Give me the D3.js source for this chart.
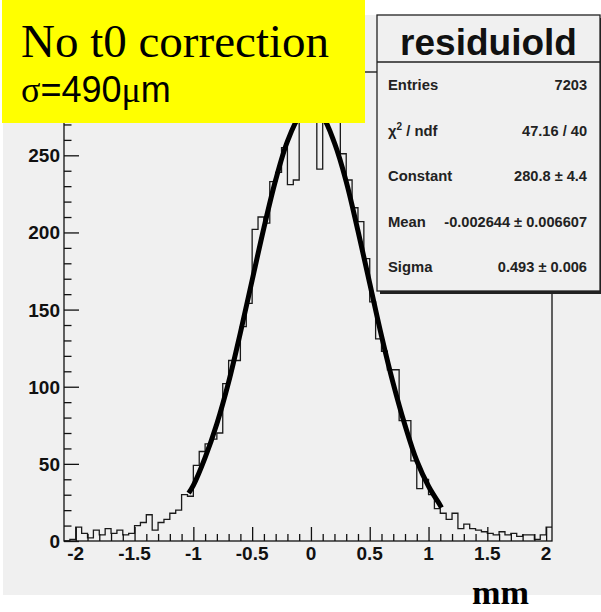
<!DOCTYPE html>
<html>
<head>
<meta charset="utf-8">
<script src="https://d3js.org/d3.v7.min.js"></script>
<style>
    body {
        margin: 0;
        background: #fff;
    }
    svg {
        display: block;
    }
    .rootfont {
        font-family: "Liberation Sans", Arial, sans-serif;
        font-weight: bold;
    }
</style>
</head>
<body>
<svg width="601" height="612"></svg>
<script>
    // histogram definition: residuiold, 83 bins from -2.1 to 2.05
    var xMin = -2.1, xMax = 2.05, binWidth = 0.05;
    var counts = [
        0, 1, 9, 5, 2, 7, 4, 8, 5, 7,
        4, 5, 10, 12, 17, 7, 12, 14, 18, 20,
        30, 29, 49, 58, 63, 66, 70, 102, 117, 117,
        139, 154, 202, 210, 206, 233, 239, 255, 231, 234,
        283, 288, 290, 241, 284, 279, 274, 251, 234, 216,
        207, 183, 155, 131, 123, 111, 111, 78, 78, 52,
        34, 40, 30, 21, 18, 14, 18, 8, 11, 8,
        7, 6, 5, 4, 6, 4, 5, 3, 4, 4,
        1, 4, 9
    ];

    // gaussian fit curve
    var fitX = [-1.04, -1.0, -0.9, -0.8, -0.7, -0.6, -0.5, -0.4, -0.3, -0.2, -0.1, 0.0,
                0.1, 0.2, 0.3, 0.4, 0.5, 0.6, 0.7, 0.8, 0.9, 1.0, 1.1, 1.11];
    var fitY = [31, 36, 54, 76, 103, 135, 169, 203, 234, 259, 275, 281,
                275, 258, 233, 201, 167, 133, 102, 75, 52, 35.5, 23, 21.6];

    var xTicks = [-2, -1.5, -1, -0.5, 0, 0.5, 1, 1.5, 2];
    var xTickLabels = ["-2", "-1.5", "-1", "-0.5", "0", "0.5", "1", "1.5", "2"];
    var yTicks = [0, 50, 100, 150, 200, 250];

    var statNames = ["Entries", "\u03c7\u00b2 / ndf", "Constant", "Mean", "Sigma"];
    var statValues = ["7203", "47.16 / 40", "280.8 \u00b1 4.4", "-0.002644 \u00b1 0.006607", "0.493 \u00b1 0.006"];

    var svg = d3.select("svg");
    var frame = { left: 64, right: 552, top: 72, bottom: 541 };

    var x = d3.scaleLinear().domain([xMin, xMax]).range([frame.left, frame.right]);
    var y = d3.scaleLinear().domain([0, 304]).range([frame.bottom, frame.top]);

    // canvas background
    svg.append("rect")
        .attr("x", 3).attr("y", 15)
        .attr("width", 598).attr("height", 580)
        .attr("fill", "#f0f0f0");

    svg.append("defs").append("clipPath").attr("id", "frameclip")
        .append("rect")
        .attr("x", frame.left).attr("y", frame.top)
        .attr("width", frame.right - frame.left).attr("height", frame.bottom - frame.top);

    var g = svg.append("g");

    // histogram outline
    var histPts = counts.map(function (c, i) { return [xMin + i * binWidth, c]; });
    histPts.push([xMin + counts.length * binWidth, counts[counts.length - 1]]);
    var step = d3.line()
        .x(function (d) { return x(d[0]); })
        .y(function (d) { return y(d[1]); })
        .curve(d3.curveStepAfter);

    g.append("path")
        .datum(histPts)
        .attr("clip-path", "url(#frameclip)")
        .attr("fill", "none")
        .attr("stroke", "#1a1a1a")
        .attr("stroke-width", 1.3)
        .attr("d", step);

    // fit
    var fitLine = d3.line()
        .x(function (d, i) { return x(fitX[i]); })
        .y(function (d) { return y(d); })
        .curve(d3.curveCatmullRom);

    g.append("path")
        .datum(fitY)
        .attr("clip-path", "url(#frameclip)")
        .attr("fill", "none")
        .attr("stroke", "#000")
        .attr("stroke-width", 5)
        .attr("stroke-linecap", "butt")
        .attr("d", fitLine);

    // frame
    g.append("rect")
        .attr("x", frame.left).attr("y", frame.top)
        .attr("width", frame.right - frame.left).attr("height", frame.bottom - frame.top)
        .attr("fill", "none")
        .attr("stroke", "#111")
        .attr("stroke-width", 1.3);

    // x axis: ticks pointing up into the frame
    var xAxis = d3.axisTop(x)
        .tickValues(d3.range(-20, 21).map(function (k) { return k / 10; }))
        .tickSize(7)
        .tickFormat("");
    var gx = g.append("g")
        .attr("transform", "translate(0," + frame.bottom + ")")
        .call(xAxis);
    gx.select(".domain").remove();
    gx.selectAll(".tick line")
        .attr("stroke", "#111").attr("stroke-width", 1.3)
        .attr("y2", function (d) { return Math.abs(d * 2 - Math.round(d * 2)) < 1e-6 ? -14 : -7; });

    g.selectAll(".xlab")
        .data(xTicks)
        .enter().append("text")
        .attr("class", "rootfont")
        .attr("x", function (d) { return x(d); })
        .attr("y", 560)
        .attr("text-anchor", "middle")
        .attr("font-size", 19)
        .attr("fill", "#111")
        .text(function (d, i) { return xTickLabels[i]; });

    // y axis: ticks pointing right into the frame
    var yAxis = d3.axisRight(y)
        .tickValues(d3.range(0, 301, 10))
        .tickFormat("");
    var gy = g.append("g")
        .attr("transform", "translate(" + frame.left + ",0)")
        .call(yAxis);
    gy.select(".domain").remove();
    gy.selectAll(".tick line")
        .attr("stroke", "#111").attr("stroke-width", 1.3)
        .attr("x2", function (d) { return d % 50 === 0 ? 15 : 7.5; });

    g.selectAll(".ylab")
        .data(yTicks)
        .enter().append("text")
        .attr("class", "rootfont")
        .attr("x", 60)
        .attr("y", function (d) { return y(d) + 7; })
        .attr("text-anchor", "end")
        .attr("font-size", 19)
        .attr("fill", "#111")
        .text(function (d) { return d; });

    // stats box
    var sb = { x: 377, y: 15, w: 223, h: 276 };
    svg.append("rect")
        .attr("x", sb.x + 3).attr("y", sb.y + 3)
        .attr("width", sb.w).attr("height", sb.h)
        .attr("fill", "#222");
    svg.append("rect")
        .attr("x", sb.x).attr("y", sb.y)
        .attr("width", sb.w).attr("height", sb.h)
        .attr("fill", "#f0f0f0")
        .attr("stroke", "#222")
        .attr("stroke-width", 1.3);
    svg.append("line")
        .attr("x1", sb.x).attr("x2", sb.x + sb.w)
        .attr("y1", 62).attr("y2", 62)
        .attr("stroke", "#222").attr("stroke-width", 1.3);
    svg.append("text")
        .attr("class", "rootfont")
        .attr("x", sb.x + sb.w / 2)
        .attr("y", 55)
        .attr("text-anchor", "middle")
        .attr("font-size", 37)
        .attr("fill", "#111")
        .text("residuiold");

    var rowY = d3.scaleLinear().domain([0, 4]).range([90, 272]);
    var nameText = svg.selectAll(".sname")
        .data(statNames)
        .enter().append("text")
        .attr("class", "rootfont")
        .attr("x", 388)
        .attr("y", function (d, i) { return rowY(i); })
        .attr("font-size", 14.8)
        .attr("fill", "#222");
    nameText.each(function (d, i) {
        var t = d3.select(this);
        if (i === 1) {
            t.append("tspan").text("\u03c7");
            t.append("tspan").attr("font-size", 10).attr("dy", -6).text("2");
            t.append("tspan").attr("dy", 6).text(" / ndf");
        } else {
            t.text(d);
        }
    });
    svg.selectAll(".sval")
        .data(statValues)
        .enter().append("text")
        .attr("class", "rootfont")
        .attr("x", 587)
        .attr("y", function (d, i) { return rowY(i); })
        .attr("text-anchor", "end")
        .attr("font-size", 14.6)
        .attr("fill", "#222")
        .text(function (d) { return d; });

    // yellow label
    svg.append("rect")
        .attr("x", 2).attr("y", 0)
        .attr("width", 363).attr("height", 123)
        .attr("fill", "#ffff00");
    svg.append("text")
        .attr("x", 21).attr("y", 57)
        .attr("font-family", "'Liberation Serif', 'Times New Roman', serif")
        .attr("font-size", 47)
        .attr("fill", "#000")
        .text("No t0 correction");
    var sig = svg.append("text")
        .attr("x", 21).attr("y", 102)
        .attr("font-size", 36)
        .attr("fill", "#000");
    sig.append("tspan").attr("font-family", "'Liberation Serif', serif").text("\u03c3");
    sig.append("tspan").attr("font-family", "'Liberation Sans', Arial, sans-serif").text("=490");
    sig.append("tspan").attr("font-family", "'Liberation Serif', serif").text("\u03bc");
    sig.append("tspan").attr("font-family", "'Liberation Sans', Arial, sans-serif").text("m");

    // axis title
    svg.append("text")
        .attr("x", 472).attr("y", 604)
        .attr("font-family", "'Liberation Serif', 'Times New Roman', serif")
        .attr("font-weight", "bold")
        .attr("font-size", 34)
        .attr("textLength", 57)
        .attr("lengthAdjust", "spacingAndGlyphs")
        .attr("fill", "#000")
        .text("mm");
</script>
</body>
</html>
